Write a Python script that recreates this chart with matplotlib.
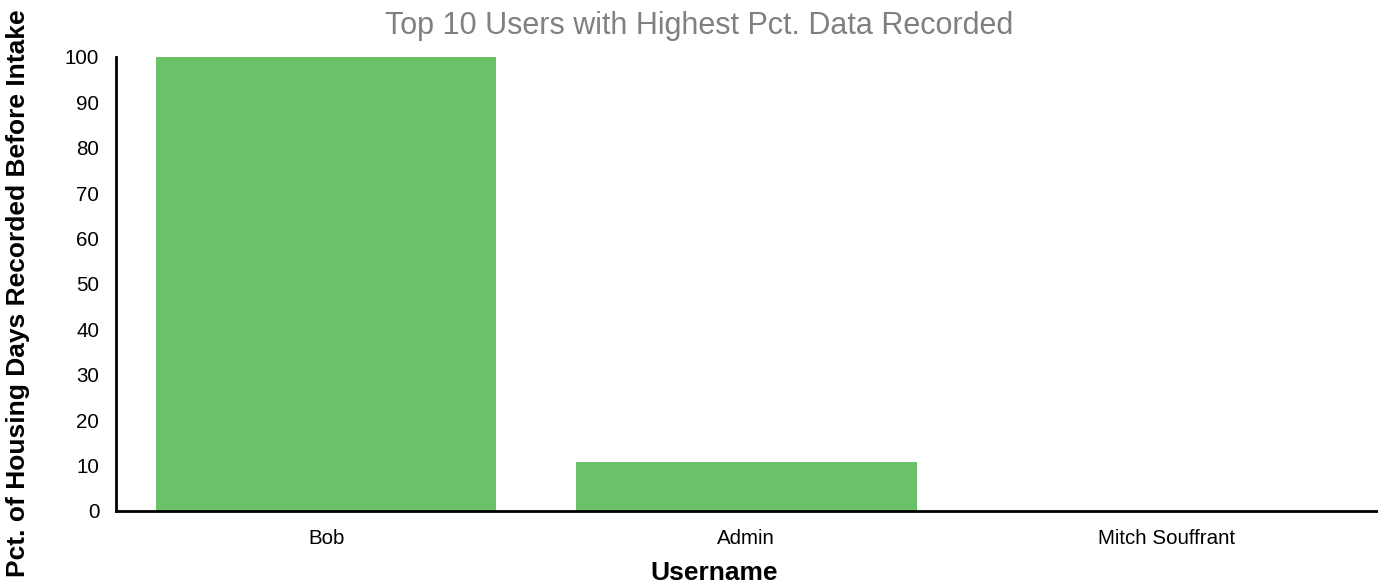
import matplotlib.pyplot as plt

#data
users = ['Bob', 'Admin', 'Mitch Souffrant']
pct_recorded = [100, 10.8, 0]
yticks = [0, 10, 20, 30, 40, 50, 60, 70, 80, 90, 100]

plt.rcParams['font.family'] = ['Liberation Sans', 'DejaVu Sans']

fig = plt.figure(figsize=(13.78, 5.87), dpi=100)
ax = fig.add_axes([0.0842, 0.1295, 0.9148, 0.7735])

ax.bar(range(len(users)), pct_recorded, width=0.81, color='#6ac167')

ax.set_xlim(-0.5, len(users) - 0.5)
ax.set_ylim(0, 100)
ax.set_xticks(range(len(users)))
ax.set_xticklabels(users)
ax.set_yticks(yticks)
ax.tick_params(axis='both', length=0, labelsize=14.8, colors='black')
ax.tick_params(axis='x', pad=13)
ax.tick_params(axis='y', pad=12)

#only left and bottom axis lines
ax.spines['top'].set_visible(False)
ax.spines['right'].set_visible(False)
ax.spines['left'].set_linewidth(2)
ax.spines['bottom'].set_linewidth(2)

#labels and title placed in figure coords
fig.text(0.518, 0.024, 'Username', ha='center', va='center', fontsize=19, weight='bold')
fig.text(0.013, 0.5, 'Pct. of Housing Days Recorded Before Intake', ha='center', va='center',
         rotation='vertical', fontsize=19, weight='bold')
fig.text(0.507, 0.956, 'Top 10 Users with Highest Pct. Data Recorded', ha='center', va='center',
         fontsize=22, color='#808080')

fig.savefig('out.png', dpi=100)
